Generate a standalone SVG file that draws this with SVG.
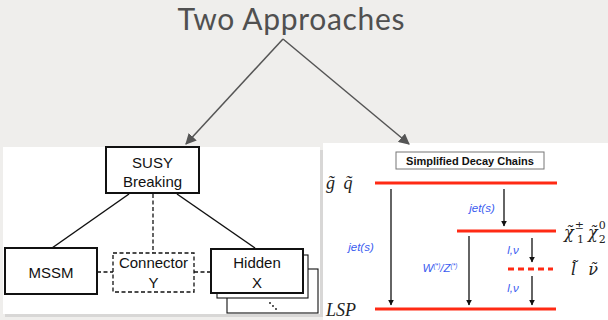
<svg xmlns="http://www.w3.org/2000/svg" width="608" height="320" viewBox="0 0 608 320">
<defs>
<style>
.box{fill:#fff;stroke:#111;stroke-width:2}
.dbox{fill:#fff;stroke:#111;stroke-width:1.3;stroke-dasharray:4,2.5}
.lbl{font-family:"Liberation Sans",Arial,sans-serif;font-size:15px;fill:#111;text-anchor:middle}
.blue{font-family:"Liberation Sans",Arial,sans-serif;font-size:11.5px;font-style:italic;fill:#3a5cf0;text-anchor:middle}
.math{font-family:"Liberation Serif","Times New Roman",serif;font-size:18px;font-style:italic;fill:#222}
.gk{font-family:"DejaVu Serif",serif;font-size:16px;font-style:italic;fill:#222}
.red{stroke:#ff2a14;stroke-width:3}
.blk{stroke:#111;stroke-width:1.3;marker-end:url(#ah)}
</style>
<marker id="ah" viewBox="0 0 10 10" refX="9" refY="5" markerWidth="6" markerHeight="6" orient="auto" markerUnits="userSpaceOnUse"><path d="M0,0 L10,5 L0,10 z" fill="#111"/></marker>
<marker id="ga" viewBox="0 0 10 10" refX="9" refY="5" markerWidth="11" markerHeight="11" orient="auto" markerUnits="userSpaceOnUse"><path d="M0,0 L10,5 L0,10 z" fill="#555"/></marker>
</defs>
<rect width="608" height="320" fill="#efeeec"/>
<text x="291" y="30" font-family="Lato,'Open Sans',sans-serif" font-size="30" fill="#505050" text-anchor="middle" textLength="227">Two Approaches</text>
<!-- panels -->
<rect x="5" y="150" width="318" height="167" fill="#c8c8c8" opacity="0.6"/>
<rect x="3" y="147" width="317" height="167" fill="#fff"/>
<rect x="323" y="143" width="285" height="177" fill="#fff"/>
<g id="connectors" fill="none">
<path d="M283,39 L186,144" stroke="#555" stroke-width="1.5" marker-end="url(#ga)"/>
<path d="M283,39 L409,144" stroke="#555" stroke-width="1.5" marker-end="url(#ga)"/>
<path d="M129,194 L52,248" stroke="#111" stroke-width="1.5"/>
<path d="M177,194 L255,248" stroke="#111" stroke-width="1.5"/>
<path d="M153,194 V253" stroke="#111" stroke-width="1.3" stroke-dasharray="4,2.5"/>
<path d="M97,272 H113" stroke="#111" stroke-width="1.3" stroke-dasharray="4,2.5"/>
<path d="M194,272 H210" stroke="#111" stroke-width="1.3" stroke-dasharray="4,2.5"/>
<line class="blk" x1="391" y1="189" x2="391" y2="305"/>
<line class="blk" x1="504" y1="189" x2="504" y2="226"/>
<line class="blk" x1="469" y1="236" x2="469" y2="305"/>
<line class="blk" x1="532" y1="238" x2="532" y2="262"/>
<line class="blk" x1="532" y1="276" x2="532" y2="305"/>
</g>
<g id="susy"><rect class="box" x="106" y="147" width="93" height="46"/><text class="lbl" x="152.5" y="168">SUSY</text><text class="lbl" x="152.5" y="187">Breaking</text></g>
<g id="mssm"><rect class="box" x="5" y="248" width="92" height="46"/><text class="lbl" x="51" y="278">MSSM</text></g>
<g id="connector"><rect class="dbox" x="113" y="253" width="81" height="39"/><text class="lbl" x="153.5" y="268">Connector</text><text class="lbl" x="153.5" y="288">Y</text></g>
<g id="hidden">
<rect x="227" y="269" width="91" height="44" fill="#fff" stroke="#111" stroke-width="1.1"/>
<rect x="217" y="255" width="91" height="43" fill="#fff" stroke="#111" stroke-width="1.1"/>
<rect class="box" x="211" y="249" width="92" height="44"/>
<text class="lbl" x="257" y="268">Hidden</text><text class="lbl" x="257" y="288">X</text>
<g fill="#111"><circle cx="270" cy="303" r="0.9"/><circle cx="273" cy="306" r="0.9"/><circle cx="276" cy="309" r="0.9"/></g>
</g>
<g id="title-box"><rect x="396" y="152" width="148" height="17" fill="#fff" stroke="#777" stroke-width="1"/><text x="470" y="164.5" font-family="'Liberation Sans',Arial,sans-serif" font-size="11" font-weight="bold" fill="#111" text-anchor="middle">Simplified Decay Chains</text></g>
<g id="levels">
<line class="red" x1="375" y1="183" x2="557" y2="183"/>
<line class="red" x1="457" y1="231" x2="556" y2="231"/>
<line class="red" x1="508" y1="269" x2="553" y2="269" stroke-dasharray="6,4"/>
<line class="red" x1="375" y1="309" x2="556" y2="309"/>
</g>
<g id="labels">
<text class="blue" x="482" y="212">jet(s)</text>
<text class="blue" x="361" y="251">jet(s)</text>
<text class="blue" x="440" y="272">W<tspan font-size="6.5" dy="-4">(*)</tspan><tspan dy="4">/Z</tspan><tspan font-size="6.5" dy="-4">(*)</tspan></text>
<text class="blue" x="513" y="254">l,ν</text>
<text class="blue" x="513" y="292">l,ν</text>
<text class="math" x="326" y="189">g̃ <tspan dx="4">q̃</tspan></text>
<text class="math" x="326" y="316" font-size="17">LSP</text>
<text class="gk" x="564" y="238">χ̃<tspan font-size="11" font-style="normal" dx="1" dy="-9">±</tspan><tspan font-size="11" font-style="normal" dx="-7" dy="14">1</tspan></text>
<text class="gk" x="588" y="238">χ̃<tspan font-size="11" font-style="normal" dx="1" dy="-9">0</tspan><tspan font-size="11" font-style="normal" dx="-7" dy="14">2</tspan></text>
<text class="gk" x="571" y="275">l̃<tspan dx="12">ν̃</tspan></text>
</g>
</svg>
